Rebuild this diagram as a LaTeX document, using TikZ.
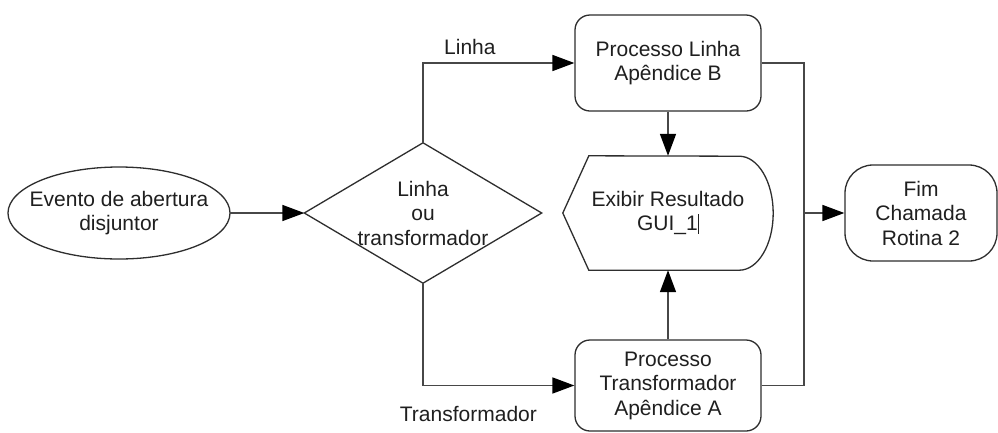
\documentclass[tikz,border=0pt]{standalone}
\usepackage{fontspec}
\setmainfont{Liberation Sans}
\usetikzlibrary{arrows.meta,shapes.geometric,calc}
\begin{document}
\begin{tikzpicture}[x=1pt,y=-1pt,
  font=\fontsize{21}{24.5}\selectfont,
  every node/.style={text=black!88},
  shapeline/.style={draw=black!82,line width=1.3pt},
  procbox/.style={shapeline,rectangle,rounded corners=15pt,minimum width=186pt,
    inner sep=0pt,align=center},
  flow/.style={draw=black!72,line width=1.6pt,
    -{Triangle[length=22pt,width=16pt,color=black]}},
  link/.style={draw=black!72,line width=1.6pt},
  ]
\useasboundingbox[fill=white] (0,0) rectangle (998,432);

% start event (ellipse drawn round a bounding node)
\node[minimum width=222pt,minimum height=92pt,inner sep=0pt,
  align=center] (ev) at (119,213) {Evento de abertura\\disjuntor};
\draw[shapeline] (ev.center) ellipse[x radius=111pt,y radius=46pt];

% decision (outline drawn through the anchors of a bounding node)
\node[minimum width=237pt,minimum height=140pt,inner sep=0pt,align=center]
  (dec) at (423,213) {Linha\\ou\\transformador};
\draw[shapeline] (dec.north) -- (dec.east) -- (dec.south) -- (dec.west) -- cycle;

% processes
\node[procbox,minimum height=96pt] (lin) at (668,63) {Processo Linha\\Apêndice B};
\node[procbox,minimum height=91pt] (tra) at (668,385.5)
  {Processo\\Transformador\\Apêndice A};

% display symbol
\node[minimum width=210pt,minimum height=114pt,inner sep=0pt,align=center]
  (gui) at (668,213) {Exibir Resultado\\GUI\_1\rule[-3pt]{1.2pt}{20pt}};
\draw[shapeline] ($(gui.north west)+(26,0)$) -- (gui.west)
  -- ($(gui.south west)+(26,0)$) -- ($(gui.south east)+(-34,0)$)
  arc[start angle=-90,end angle=90,x radius=34pt,y radius=57pt] -- cycle;

% terminator
\node[shapeline,rectangle,rounded corners=28pt,minimum width=152pt,
  minimum height=96pt,inner sep=0pt,align=center] (fim) at (921,213)
  {Fim\\Chamada\\Rotina 2};

% connectors
\coordinate (j) at (804,213);
\draw[flow] (ev.east) -- (dec.west);
\draw[flow] (dec.north) |- node[pos=0.655,anchor=base,yshift=9pt] (llin) {Linha} (lin.west);
\draw[flow] (dec.south) |- node[pos=0.65,anchor=base,yshift=-36pt] (ltra) {Transformador} (tra.west);
\draw[flow] (lin.south) -- (gui.north);
\draw[flow] (tra.north) -- (gui.south);
\draw[link] (lin.east) -| (j);
\draw[link] (tra.east) -| (j);
\draw[flow] (j) -- (fim.west);
\end{tikzpicture}
\end{document}
